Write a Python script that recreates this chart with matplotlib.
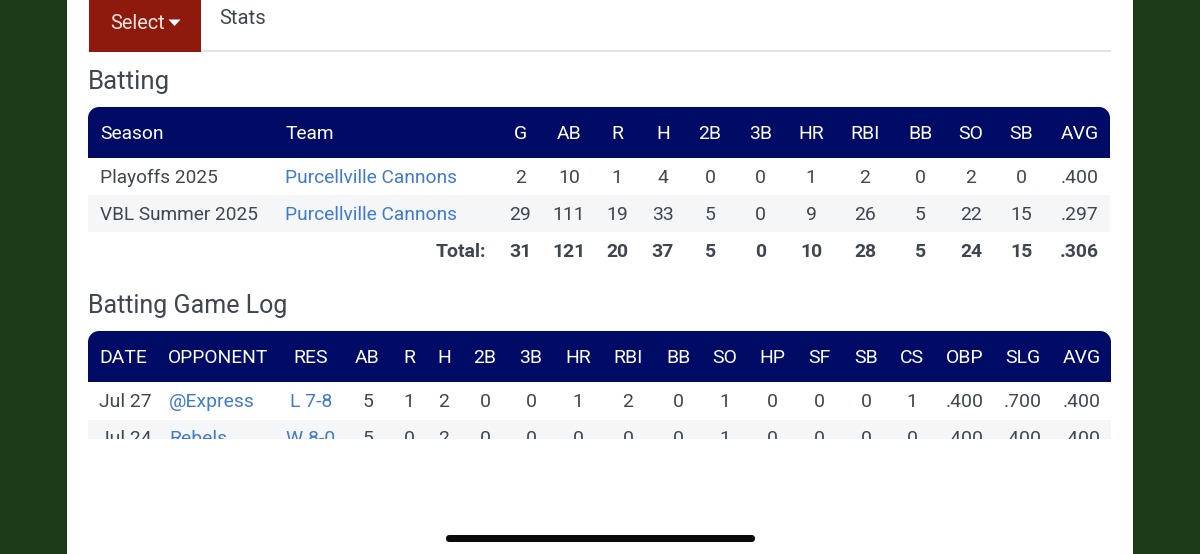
import matplotlib
matplotlib.use("Agg")
import matplotlib.pyplot as plt
from matplotlib.patches import Rectangle, FancyBboxPatch, Polygon, PathPatch
from matplotlib.path import Path

plt.rcParams['font.family'] = ['Roboto', 'DejaVu Sans']

BG = '#1b3a18'; NAVY = '#000b66'; RED = '#8e1a0e'; TXT = '#3f4650'; LINK = '#3f7ad0'; ALT = '#f4f6f8'

bat_cols = ['G','AB','R','H','2B','3B','HR','RBI','BB','SO','SB','AVG']
bat_x = [520.5,569,617,663,710,760.5,811,865,920,971,1021,1079.5]
bat_seasons = ['Playoffs 2025','VBL Summer 2025']
bat_teams = ['Purcellville Cannons','Purcellville Cannons']
bat_row1 = ['2','10','1','4','0','0','1','2','0','2','0','.400']
bat_row2 = ['29','111','19','33','5','0','9','26','5','22','15','.297']
bat_total = ['31','121','20','37','5','0','10','28','5','24','15','.306']

log_cols = ['AB','R','H','2B','3B','HR','RBI','BB','SO','HP','SF','SB','CS','OBP','SLG','AVG']
log_x = [367.5,409,444,485,531,578,628,678,725,772,819,866,912,965,1023,1082]
log_row1 = ['5','1','2','0','0','1','2','0','1','0','0','0','1','.400','.700','.400']
log_row2 = ['5','0','2','0','0','0','0','0','1','0','0','0','0','.400','.400','.400']
log_dates = ['Jul 27','Jul 24']
log_opps = ['@Express','Rebels']
log_res = ['L 7-8','W 8-0']

fig = plt.figure(figsize=(12, 5.54), dpi=100)
ax = fig.add_axes([0, 0, 1, 1])
ax.set_xlim(0, 1200); ax.set_ylim(554, 0); ax.axis('off')

def rect(x, y, w, h, c, z=1):
    ax.add_patch(Rectangle((x, y), w, h, fc=c, ec='none', zorder=z))

def T(x, y, s, c=TXT, size=19.4, ha='center', weight='normal', clip=None):
    t = ax.text(x, y, s, color=c, fontsize=size*0.72, ha=ha, va='center_baseline',
                fontweight=weight, zorder=5)
    if clip is not None:
        t.set_clip_path(clip); t.set_clip_on(True)
    return t

def top_round(x, y, w, h, r, c):
    k = 0.55 * r
    v = [(x, y+h), (x, y+r), (x, y+r-k), (x+r-k, y), (x+r, y), (x+w-r, y), (x+w-r+k, y), (x+w, y+r-k), (x+w, y+r),
         (x+w, y+h), (x, y+h)]
    co = [Path.MOVETO, Path.LINETO, Path.CURVE4, Path.CURVE4, Path.CURVE4, Path.LINETO, Path.CURVE4, Path.CURVE4, Path.CURVE4,
          Path.LINETO, Path.CLOSEPOLY]
    ax.add_patch(PathPatch(Path(v, co), fc=c, ec='none', zorder=2))

rect(0, 0, 1200, 554, BG, 0)
rect(67, 0, 1066, 554, 'white', 1)

# tabs
rect(88, 50, 1023, 1.6, '#e2e3e5', 2)
rect(89, 0, 112, 51.5, RED, 3)
T(110.5, 21.5, 'Select', c='#f6e6e0', ha='left', size=20)
ax.add_patch(Polygon([(168.5, 19.5), (180.5, 19.5), (174.5, 26)], fc='white', ec='none', zorder=5))
T(219, 17, 'Stats', ha='left', size=20.3)

# batting
T(88, 79, 'Batting', ha='left', size=25.7)
top_round(88, 107, 1022, 51, 11, NAVY)
T(100, 132, 'Season', c='white', ha='left', size=19.2)
T(285, 132, 'Team', c='white', ha='left', size=19.2)
for x, s in zip(bat_x, bat_cols):
    T(x, 132, s, c='white')
rect(88, 195, 1022, 37, ALT, 2)
for y, se, te, vals in zip([176, 213], bat_seasons, bat_teams, [bat_row1, bat_row2]):
    T(99.5, y, se, ha='left', size=19)
    T(285, y, te, c=LINK, ha='left', size=19.1)
    for x, s in zip(bat_x, vals):
        T(x, y, s)
T(486, 250, 'Total:', ha='right', weight='bold')
for x, s in zip(bat_x, bat_total):
    T(x, 250, s, weight='bold')

# game log
T(88, 304, 'Batting Game Log', ha='left', size=25)
top_round(88, 331, 1023, 51, 11, NAVY)
rect(156.5, 332, 0.8, 50, '#1c2676', 3)
T(123, 356, 'DATE', c='white')
T(218, 356, 'OPPONENT', c='white', size=19.2)
T(311, 356, 'RES', c='white')
for x, s in zip(log_x, log_cols):
    T(x, 356, s, c='white')
rect(88, 420, 1023, 18.5, ALT, 2)
clip = Rectangle((60, 382), 1080, 56.5, transform=ax.transData)
for y, d, o, r, vals in zip([400, 437], log_dates, log_opps, log_res, [log_row1, log_row2]):
    T(125, y, d, clip=clip)
    T(169, y, o, c=LINK, ha='left', clip=clip)
    T(311, y, r, c=LINK, clip=clip)
    for x, s in zip(log_x, vals):
        T(x, y, s, clip=clip)

# home indicator
ax.add_patch(FancyBboxPatch((446, 535), 309, 7, boxstyle='round,pad=0,rounding_size=3.5', fc='#0a0a0a', ec='none', zorder=5))

fig.savefig('out.png', dpi=100)
